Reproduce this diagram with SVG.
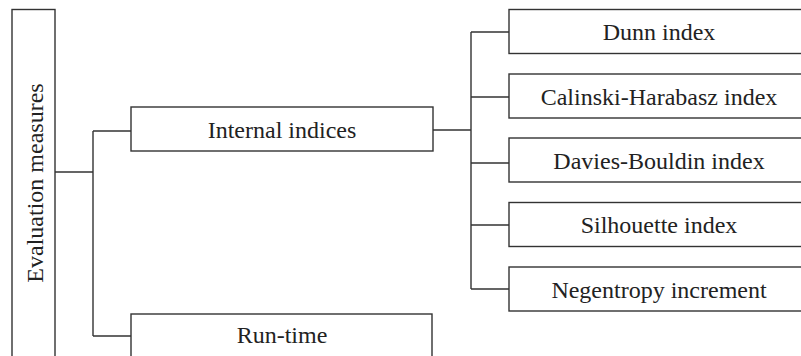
<svg xmlns="http://www.w3.org/2000/svg" width="801" height="356" viewBox="0 0 801 356">
<style>
.box{fill:#fff;stroke:#333;stroke-width:1.4}
.lbl{font-family:"Liberation Serif","Times New Roman",serif;font-size:24px;fill:#222;text-anchor:middle}
.conn{fill:none;stroke:#333;stroke-width:1.4}
</style>
<rect width="801" height="356" fill="#fff"/>
<g id="connectors">
<path class="conn" d="M55,172 H93 M93,131 V336 M93,131 H131 M93,336 H131"/>
<path class="conn" d="M433,130 H471 M471,32 V289 M471,32 H509 M471,97 H509 M471,163 H509 M471,225 H509 M471,289 H509"/>
</g>
<g id="evaluation-measures">
<rect class="box" x="12" y="9.5" width="43" height="360"/>
<text class="lbl" transform="translate(43,183) rotate(-90)">Evaluation measures</text>
</g>
<g id="internal-indices">
<rect class="box" x="131" y="107" width="302" height="44"/>
<text class="lbl" x="282" y="138">Internal indices</text>
</g>
<g id="run-time">
<rect class="box" x="131" y="314" width="301" height="60"/>
<text class="lbl" x="282" y="343">Run-time</text>
</g>
<g id="dunn-index">
<rect class="box" x="509" y="9.5" width="300" height="44"/>
<text class="lbl" x="659" y="40">Dunn index</text>
</g>
<g id="calinski-harabasz-index">
<rect class="box" x="509" y="74" width="300" height="44"/>
<text class="lbl" x="659" y="105">Calinski-Harabasz index</text>
</g>
<g id="davies-bouldin-index">
<rect class="box" x="509" y="138" width="300" height="44"/>
<text class="lbl" x="659" y="169">Davies-Bouldin index</text>
</g>
<g id="silhouette-index">
<rect class="box" x="509" y="202.5" width="300" height="44"/>
<text class="lbl" x="659" y="233">Silhouette index</text>
</g>
<g id="negentropy-increment">
<rect class="box" x="509" y="267" width="300" height="44"/>
<text class="lbl" x="659" y="298">Negentropy increment</text>
</g>
</svg>
